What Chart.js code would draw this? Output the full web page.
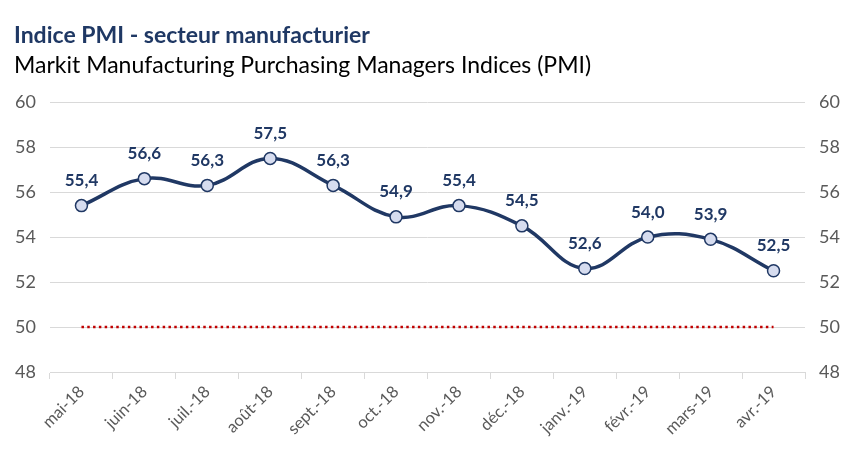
<!DOCTYPE html>
<html>
<head>
<meta charset="utf-8">
<script src="https://cdn.jsdelivr.net/npm/chart.js@4.4.1/dist/chart.umd.min.js"></script>
<style>
  html, body { margin: 0; padding: 0; background: #fff; }
  #wrap { width: 851px; height: 459px; }
</style>
</head>
<body>
<div id="wrap"><canvas id="pmiChart" width="851" height="459"></canvas></div>
<script>
// Données
const mois = ['mai-18', 'juin-18', 'juil.-18', 'août-18', 'sept.-18', 'oct.-18', 'nov.-18', 'déc.-18', 'janv.-19', 'févr.-19', 'mars-19', 'avr.-19'];
const indicePMI = [55.4, 56.6, 56.3, 57.5, 56.3, 54.9, 55.4, 54.5, 52.6, 54.0, 53.9, 52.5];
const seuil = [50, 50, 50, 50, 50, 50, 50, 50, 50, 50, 50, 50];
const graduations = [48, 50, 52, 54, 56, 58, 60];

const police = 'Lato, "Open Sans", sans-serif';
const marine = '#203864';
const gris = '#595959';

// Étiquettes de valeur au-dessus des points
const etiquettes = {
  id: 'etiquettes',
  afterDatasetsDraw(chart) {
    const ctx = chart.ctx;
    const meta = chart.getDatasetMeta(0);
    ctx.save();
    ctx.font = 'bold 17px ' + police;
    ctx.fillStyle = marine;
    ctx.textAlign = 'center';
    ctx.textBaseline = 'middle';
    meta.data.forEach((pt, i) => {
      const txt = indicePMI[i].toFixed(1).replace('.', ',');
      ctx.fillText(txt, pt.x, pt.y - 25);
    });
    ctx.restore();
  }
};

const axeY = (position) => ({
  position: position,
  min: 48,
  max: 60,
  afterBuildTicks: (axis) => { axis.ticks = graduations.map(v => ({ value: v })); },
  grid: {
    display: position === 'left',
    color: '#d9d9d9',
    drawTicks: false
  },
  border: { display: false },
  ticks: {
    color: gris,
    padding: 14,
    font: { family: police, size: 18 }
  },
  afterFit: (axis) => { axis.width = position === 'left' ? 36 : 46; }
});

new Chart(document.getElementById('pmiChart').getContext('2d'), {
  type: 'line',
  data: {
    labels: mois,
    datasets: [{
      label: 'PMI',
      data: indicePMI,
      borderColor: marine,
      borderWidth: 3.5,
      tension: 0.4,
      pointRadius: 6,
      pointBackgroundColor: '#d6dcef',
      pointBorderColor: marine,
      pointBorderWidth: 1.5,
      yAxisID: 'y'
    }, {
      label: 'Seuil',
      data: seuil,
      borderColor: '#c00000',
      borderWidth: 2.5,
      borderDash: [2.5, 3.3],
      pointRadius: 0,
      yAxisID: 'y'
    }]
  },
  options: {
    responsive: false,
    animation: false,
    layout: { padding: { left: 14, right: 0, top: 0, bottom: 0 } },
    scales: {
      x: {
        offset: true,
        grid: {
          offset: true,
          drawOnChartArea: false,
          drawTicks: true,
          tickLength: 7,
          color: '#d9d9d9'
        },
        border: { color: '#d9d9d9' },
        ticks: {
          color: gris,
          maxRotation: 45,
          minRotation: 45,
          padding: 3,
          font: { family: police, size: 16.5 }
        },
        afterFit: (axis) => { axis.height = 87; }
      },
      y: axeY('left'),
      y2: axeY('right')
    },
    plugins: {
      legend: { display: false },
      tooltip: { enabled: false },
      title: {
        display: true,
        text: 'Indice PMI - secteur manufacturier',
        align: 'start',
        color: '#1f3864',
        font: { family: police, size: 23, weight: 'bold' },
        padding: { top: 22, bottom: 2 }
      },
      subtitle: {
        display: true,
        text: 'Markit Manufacturing Purchasing Managers Indices (PMI)',
        align: 'start',
        color: '#000',
        font: { family: police, size: 23, weight: 'normal' },
        padding: { top: 0, bottom: 23 }
      }
    }
  },
  plugins: [etiquettes]
});
</script>
</body>
</html>
